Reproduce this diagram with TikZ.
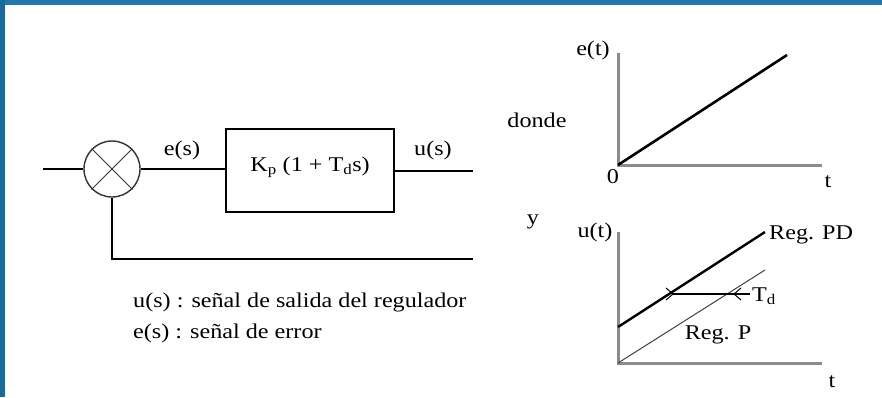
\documentclass[tikz,border=0pt]{standalone}
\usepackage{fontspec}
\setmainfont{Liberation Serif}[FakeStretch=1.15]
\begin{document}
\begin{tikzpicture}[x=1pt,y=-1pt,
  wire/.style={line width=2.4pt,black},
  axis/.style={line width=3pt,gray!90},
  txt/.style={inner sep=0pt,font=\fontsize{21}{24}\selectfont}]
\useasboundingbox (0,0) rectangle (882,397);
\fill[white] (0,0) rectangle (882,397);
\fill[color={rgb,255:red,32;green,121;blue,170}] (0,0) rectangle (882,5);
\fill[color={rgb,255:red,22;green,108;blue,158}] (0,0) rectangle (5,397);
% block diagram
\node[circle,draw=black!80,line width=1.4pt,minimum size=56pt,inner sep=0pt] (sum) at (112,169) {};
\draw[line width=1pt,black!80] (sum.north west) -- (sum.south east) (sum.north east) -- (sum.south west);
\node[draw,line width=2pt,minimum width=168pt,minimum height=83pt,anchor=north west,inner sep=0pt] (blk) at (225,128) {};
\node[txt] (kp) at (310,167) {K\textsubscript{p} (1 + T\textsubscript{d}s)};
\coordinate (in) at (43,169);
\coordinate (out) at (473,171);
\coordinate (fbc) at (115,259);
\coordinate (fbe) at (473,259);
\draw[wire] (in) -- (sum.west);
\draw[wire] (sum.east) -- (sum.east -| blk.west);
\draw[wire] (blk.east |- out) -- (out);
\draw[wire] (sum.south) -- (sum.south |- fbc) -- (fbe);
\node[txt] (es) at (182,150) {e(s)};
\node[txt] (us) at (433,150) {u(s)};
\node[txt,anchor=west] (l1) at (133,302) {u(s) : señal de salida del regulador};
\node[txt,anchor=west] (l2) at (133,333) {e(s) : señal de error};
% top graph
\coordinate (o1) at (618,165);
\coordinate (y1) at (618,53);
\coordinate (x1) at (822,165);
\coordinate (e1) at (787,55);
\draw[axis] (y1) -- (o1) -- (x1);
\draw[wire,line width=2.6pt] (o1) -- (e1);
\node[txt] (et) at (593,50) {e(t)};
\node[txt] (donde) at (537,120) {donde};
\node[txt] (zero) at (613,177) {0};
\node[txt] (t1) at (828,182) {t};
% bottom graph
\coordinate (o2) at (618,363);
\coordinate (y2) at (618,232);
\coordinate (x2) at (822,363);
\coordinate (pd0) at (618,327);
\coordinate (pd1) at (765,232);
\coordinate (p1) at (765,270);
\draw[axis] (y2) -- (o2) -- (x2);
\draw[line width=1pt,black!75] (o2) -- (p1);
\draw[wire] (pd0) -- (pd1);
\coordinate (ta) at (673,294);
\coordinate (tb) at (750,294);
\coordinate (tc) at (734,294);
\draw[wire] (ta) -- (tb);
\draw[line width=1pt] (666,288) -- (ta) -- (666,300);
\draw[line width=1pt] (741,288) -- (tc) -- (741,300);
\node[txt] (y) at (533,222) {y};
\node[txt] (ut) at (595,232) {u(t)};
\node[txt,anchor=west] (rpd) at (769,235) {Reg. PD};
\node[txt,anchor=west] (td) at (752,296) {T\textsubscript{d}};
\node[txt] (rp) at (718,335) {Reg. P};
\node[txt] (t2) at (832,382) {t};
\end{tikzpicture}
\end{document}
